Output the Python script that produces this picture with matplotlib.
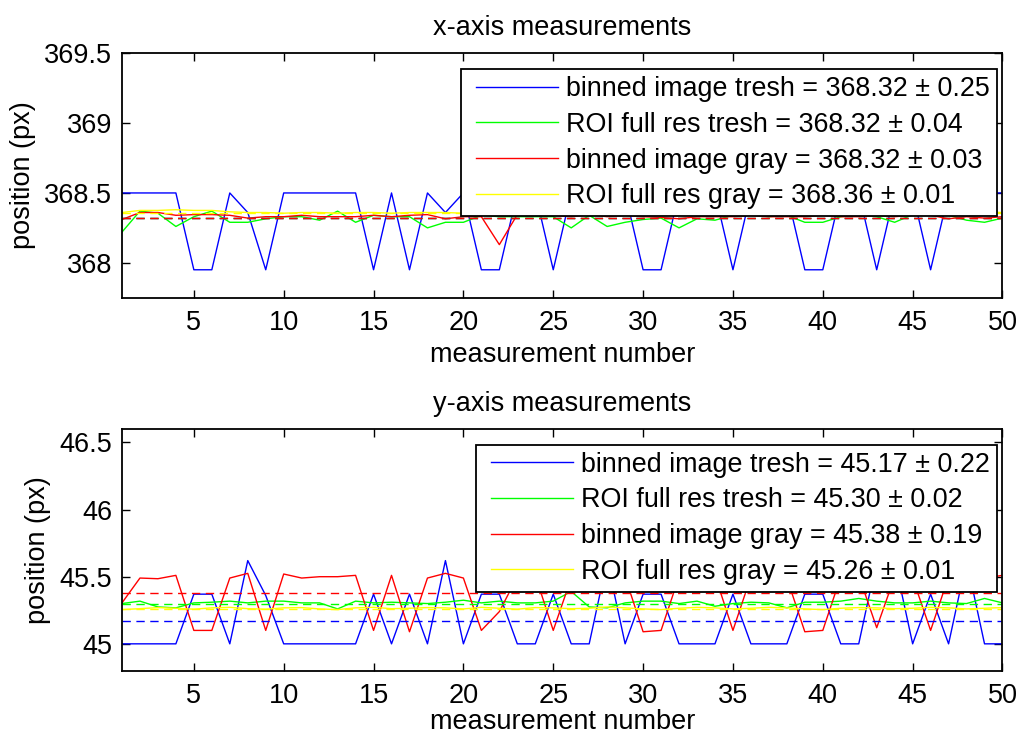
import numpy as np
import matplotlib.pyplot as plt
from matplotlib.ticker import FuncFormatter

plt.rcParams['font.family'] = ['Liberation Sans', 'DejaVu Sans']
plt.rcParams['font.size'] = 19.5

n = np.arange(1, 51)

# x-axis measurements (px)
x_bin_tresh = [368.5, 368.5, 368.5, 368.5, 367.95, 367.95, 368.5, 368.36, 367.95, 368.5,
               368.5, 368.5, 368.5, 368.5, 367.95, 368.5, 367.95, 368.5, 368.36, 368.5,
               367.95, 367.95, 368.5, 368.5, 367.95, 368.5, 368.5, 368.5, 368.5, 367.95,
               367.95, 368.5, 368.5, 368.5, 367.95, 368.5, 368.5, 368.5, 367.95, 367.95,
               368.5, 368.5, 367.95, 368.5, 368.5, 367.95, 368.5, 368.5, 368.5, 368.5]
x_roi_tresh = [368.22, 368.37, 368.355, 368.26, 368.33, 368.37, 368.29, 368.29, 368.315, 368.33,
               368.33, 368.305, 368.37, 368.29, 368.34, 368.33, 368.33, 368.25, 368.29, 368.29,
               368.34, 368.33, 368.33, 368.33, 368.33, 368.25, 368.34, 368.26, 368.29, 368.31,
               368.32, 368.25, 368.315, 368.305, 368.34, 368.345, 368.33, 368.34, 368.29, 368.29,
               368.33, 368.345, 368.33, 368.29, 368.345, 368.36, 368.34, 368.305, 368.29, 368.32]
x_bin_gray = [368.31, 368.36, 368.36, 368.34, 368.345, 368.345, 368.34, 368.32, 368.33, 368.33,
              368.34, 368.33, 368.33, 368.33, 368.34, 368.33, 368.34, 368.345, 368.315, 368.33,
              368.33, 368.13, 368.345, 368.34, 368.34, 368.33, 368.345, 368.33, 368.34, 368.33,
              368.325, 368.315, 368.33, 368.33, 368.33, 368.34, 368.33, 368.33, 368.33, 368.34,
              368.33, 368.33, 368.34, 368.33, 368.34, 368.34, 368.315, 368.33, 368.32, 368.33]
x_roi_gray = [368.36, 368.375, 368.375, 368.38, 368.375, 368.375, 368.365, 368.36, 368.36, 368.355,
              368.36, 368.36, 368.355, 368.36, 368.36, 368.355, 368.36, 368.36, 368.36, 368.355,
              368.36, 368.36, 368.36, 368.355, 368.36, 368.36, 368.36, 368.355, 368.36, 368.36,
              368.36, 368.36, 368.355, 368.36, 368.36, 368.36, 368.355, 368.36, 368.36, 368.36,
              368.36, 368.355, 368.36, 368.36, 368.36, 368.355, 368.36, 368.36, 368.365, 368.36]
x_mean = [368.32, 368.32, 368.32, 368.36]
x_std = [0.25, 0.04, 0.03, 0.01]

# y-axis measurements (px)
y_bin_tresh = [45.0, 45.0, 45.0, 45.0, 45.37, 45.37, 45.0, 45.62, 45.36, 45.0,
               45.0, 45.0, 45.0, 45.0, 45.37, 45.0, 45.37, 45.0, 45.62, 45.0,
               45.37, 45.37, 45.0, 45.0, 45.37, 45.0, 45.0, 45.62, 45.0, 45.37,
               45.37, 45.0, 45.0, 45.0, 45.37, 45.0, 45.0, 45.0, 45.37, 45.37,
               45.0, 45.0, 45.62, 45.62, 45.0, 45.37, 45.0, 45.62, 45.0, 45.0]
y_roi_tresh = [45.30, 45.318, 45.275, 45.268, 45.305, 45.31, 45.318, 45.305, 45.318, 45.318,
               45.305, 45.305, 45.26, 45.318, 45.305, 45.31, 45.305, 45.30, 45.31, 45.325,
               45.305, 45.318, 45.305, 45.305, 45.318, 45.39, 45.275, 45.268, 45.305, 45.318,
               45.318, 45.30, 45.318, 45.28, 45.30, 45.31, 45.305, 45.268, 45.31, 45.31,
               45.318, 45.338, 45.318, 45.305, 45.305, 45.318, 45.305, 45.30, 45.338, 45.305]
y_bin_gray = [45.305, 45.49, 45.485, 45.51, 45.10, 45.10, 45.49, 45.525, 45.10, 45.52,
              45.49, 45.50, 45.50, 45.51, 45.10, 45.51, 45.09, 45.49, 45.525, 45.49,
              45.10, 45.24, 45.50, 45.51, 45.10, 45.49, 45.50, 45.51, 45.50, 45.09,
              45.10, 45.50, 45.49, 45.51, 45.10, 45.50, 45.52, 45.49, 45.09, 45.10,
              45.50, 45.51, 45.12, 45.50, 45.49, 45.10, 45.50, 45.52, 45.49, 45.51]
y_roi_gray = [45.255, 45.262, 45.27, 45.265, 45.258, 45.268, 45.272, 45.262, 45.258, 45.268,
              45.27, 45.26, 45.255, 45.268, 45.272, 45.262, 45.265, 45.27, 45.268, 45.26,
              45.272, 45.265, 45.258, 45.27, 45.268, 45.262, 45.265, 45.275, 45.268, 45.26,
              45.255, 45.265, 45.272, 45.268, 45.26, 45.265, 45.272, 45.268, 45.26, 45.255,
              45.265, 45.27, 45.268, 45.262, 45.265, 45.272, 45.268, 45.26, 45.265, 45.27]
y_mean = [45.17, 45.30, 45.38, 45.26]
y_std = [0.22, 0.02, 0.19, 0.01]

names = ['binned image tresh', 'ROI full res tresh', 'binned image gray', 'ROI full res gray']
colors = ['#0000ff', '#00ff00', '#ff0000', '#ffff00']

panels = [
    ('x-axis measurements', [x_bin_tresh, x_roi_tresh, x_bin_gray, x_roi_gray], x_mean, x_std,
     (367.75, 369.5), [368, 368.5, 369, 369.5], [0.5966, 0.3312], 4),
    ('y-axis measurements', [y_bin_tresh, y_roi_tresh, y_bin_gray, y_roi_gray], y_mean, y_std,
     (44.8, 46.6), [45, 45.5, 46, 46.5], [0.0912, 0.3275], 0),
]

fig = plt.figure(figsize=(10.19, 7.38), dpi=100)

for title, series, means, stds, ylim, yticks, (bot, h), xlpad in panels:
    ax = fig.add_axes([0.1197, bot, 0.8641, h])
    handles = []
    for s, c, name, m, sd in zip(series, colors, names, means, stds):
        ln, = ax.plot(n, s, color=c, lw=1.0, label='%s = %.2f \u00b1 %.2f' % (name, m, sd))
        handles.append(ln)
    # dashed line at each series mean
    for m, c in zip(means, colors):
        ax.axhline(m, color=c, lw=1.0, ls=(0, (6, 4)))
    ax.set_xlim(1, 50)
    ax.set_ylim(*ylim)
    ax.set_xticks(np.arange(5, 51, 5))
    ax.set_yticks(yticks)
    ax.yaxis.set_major_formatter(FuncFormatter(lambda v, p: '%g' % v))
    ax.tick_params(direction='in', top=True, right=True, length=6, width=1.0, pad=7)
    ax.tick_params(axis='x', pad=9)
    for sp in ax.spines.values():
        sp.set_linewidth(1.3)
    ax.set_title(title, fontsize=19.5, pad=13)
    ax.set_xlabel('measurement number', labelpad=xlpad)
    ax.set_ylabel('position (px)', labelpad=6)
    leg = ax.legend(handles=handles, loc='upper right', bbox_to_anchor=(0.9937, 0.935),
                    borderaxespad=0, fancybox=False, framealpha=1, edgecolor='black',
                    numpoints=2, handlelength=3.64, handletextpad=0.0, labelspacing=0.36,
                    borderpad=0.26, fontsize=19.4)
    leg.get_frame().set_linewidth(1.3)

fig.savefig('out.png', dpi=100)
